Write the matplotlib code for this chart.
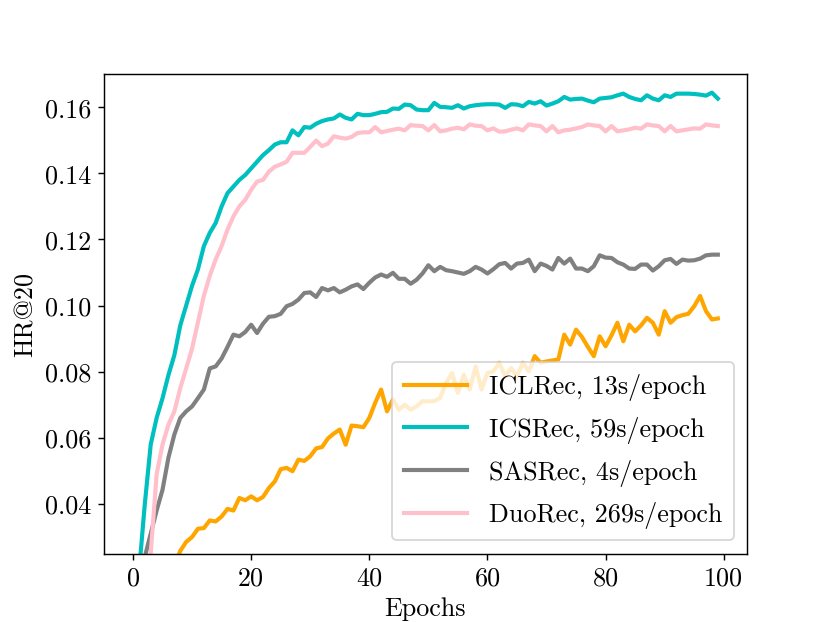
import matplotlib
matplotlib.use("Agg")
import matplotlib.pyplot as plt
import numpy as np

# HR@20 per epoch
epochs = np.arange(100)

icsrec = [0.002, 0.019, 0.040, 0.058, 0.066, 0.072, 0.079, 0.085, 0.094, 0.100,
          0.106, 0.111, 0.118, 0.122, 0.125, 0.130, 0.134, 0.136, 0.138, 0.1395,
          0.1415, 0.1435, 0.1455, 0.147, 0.1487, 0.1494, 0.1494, 0.153, 0.1515, 0.154,
          0.1538, 0.155, 0.1558, 0.1563, 0.1566, 0.1578, 0.1568, 0.1563, 0.158, 0.1576,
          0.1576, 0.158, 0.1585, 0.1586, 0.1596, 0.1595, 0.1608, 0.1606, 0.1593, 0.1591,
          0.1591, 0.1613, 0.1601, 0.1600, 0.1598, 0.1606, 0.1596, 0.1603, 0.1606, 0.1608,
          0.1609, 0.1609, 0.1608, 0.1598, 0.1609, 0.1608, 0.1603, 0.1616, 0.1611, 0.1618,
          0.1605, 0.1611, 0.1618, 0.1631, 0.1623, 0.1625, 0.1626, 0.1620, 0.1615, 0.1626,
          0.1628, 0.1630, 0.1636, 0.1641, 0.1631, 0.1625, 0.1621, 0.1636, 0.1626, 0.1621,
          0.1636, 0.1631, 0.1641, 0.1641, 0.1641, 0.1640, 0.1638, 0.1635, 0.1644, 0.1626]

duorec = [0.002, 0.006, 0.012, 0.025, 0.049, 0.058, 0.064, 0.068, 0.075, 0.081,
          0.087, 0.095, 0.103, 0.109, 0.114, 0.118, 0.123, 0.127, 0.130, 0.132,
          0.135, 0.1375, 0.138, 0.1405, 0.142, 0.1427, 0.1435, 0.1462, 0.1462, 0.1462,
          0.148, 0.1499, 0.1482, 0.149, 0.1512, 0.1508, 0.1505, 0.151, 0.1522, 0.1524,
          0.1524, 0.1540, 0.1524, 0.1528, 0.1532, 0.1535, 0.1530, 0.1546, 0.1544, 0.1543,
          0.1530, 0.1546, 0.1527, 0.1530, 0.1535, 0.1538, 0.1533, 0.1548, 0.1544, 0.1543,
          0.1530, 0.1536, 0.1526, 0.1527, 0.1532, 0.1536, 0.1530, 0.1548, 0.1545, 0.1543,
          0.1527, 0.1543, 0.1524, 0.1530, 0.1532, 0.1536, 0.1540, 0.1548, 0.1545, 0.1543,
          0.1527, 0.1543, 0.1527, 0.1530, 0.1533, 0.1538, 0.1535, 0.1548, 0.1545, 0.1543,
          0.1527, 0.1543, 0.1527, 0.1530, 0.1533, 0.1536, 0.1535, 0.1548, 0.1545, 0.1543]

sasrec = [0.005, 0.015, 0.024, 0.031, 0.038, 0.0443, 0.054, 0.061, 0.066, 0.068,
          0.0695, 0.072, 0.0746, 0.081, 0.0816, 0.084, 0.0875, 0.0912, 0.0907, 0.092,
          0.0942, 0.0917, 0.0945, 0.0966, 0.0968, 0.0975, 0.0998, 0.1005, 0.1018, 0.1038,
          0.1040, 0.1026, 0.1053, 0.1046, 0.1053, 0.1040, 0.1048, 0.1058, 0.1064, 0.1050,
          0.1069, 0.1085, 0.1094, 0.1087, 0.1099, 0.1081, 0.1081, 0.1066, 0.1078, 0.1097,
          0.1122, 0.1104, 0.1117, 0.1107, 0.1104, 0.1100, 0.1096, 0.1104, 0.1117, 0.1109,
          0.1097, 0.1110, 0.1125, 0.1129, 0.1112, 0.1127, 0.1129, 0.1139, 0.1104, 0.1127,
          0.1120, 0.1109, 0.1144, 0.1127, 0.1142, 0.1112, 0.1112, 0.1104, 0.1119, 0.1152,
          0.1145, 0.1144, 0.1131, 0.1124, 0.1112, 0.1111, 0.1124, 0.1124, 0.1106, 0.1119,
          0.1137, 0.1141, 0.1126, 0.1139, 0.1136, 0.1137, 0.1142, 0.1152, 0.1154, 0.1154]

iclrec = [0.005, 0.008, 0.010, 0.012, 0.015, 0.017, 0.019, 0.021, 0.0258, 0.0285,
          0.030, 0.0325, 0.0327, 0.0350, 0.0347, 0.0362, 0.0385, 0.0380, 0.0418, 0.0411,
          0.0423, 0.0411, 0.0421, 0.0448, 0.0468, 0.0505, 0.0509, 0.0499, 0.0534, 0.0530,
          0.0544, 0.0568, 0.0572, 0.0598, 0.0613, 0.0625, 0.0579, 0.0637, 0.0635, 0.0632,
          0.0660, 0.0706, 0.0746, 0.0680, 0.0716, 0.0685, 0.0700, 0.0685, 0.0695, 0.0711,
          0.0710, 0.0711, 0.0721, 0.0766, 0.0796, 0.0736, 0.0791, 0.0746, 0.0816, 0.0746,
          0.0796, 0.0801, 0.0827, 0.0786, 0.0811, 0.0786, 0.0827, 0.0801, 0.0847, 0.0827,
          0.0831, 0.0834, 0.0837, 0.0912, 0.0882, 0.0927, 0.0905, 0.0875, 0.0847, 0.0907,
          0.0877, 0.0910, 0.0948, 0.0892, 0.0942, 0.0922, 0.0940, 0.0963, 0.0948, 0.0912,
          0.0983, 0.0948, 0.0965, 0.0971, 0.0975, 0.0998, 0.1029, 0.0983, 0.0958, 0.0961]

labels = ["ICLRec, 13s/epoch", "ICSRec, 59s/epoch", "SASRec, 4s/epoch", "DuoRec, 269s/epoch"]
colors = ["orange", "c", "gray", "pink"]

plt.rcParams["font.family"] = ["cmr10", "DejaVu Serif"]
plt.rcParams["mathtext.fontset"] = "cm"
plt.rcParams["axes.unicode_minus"] = False
plt.rcParams["font.size"] = 14.5

fig, ax = plt.subplots(figsize=(6.4, 4.8), dpi=129.7)

for serie, lab, col in zip([iclrec, icsrec, sasrec, duorec], labels, colors):
    ax.plot(epochs, serie, color=col, linewidth=2.3, label=lab)

ax.set_ylim(0.025, 0.17)
ax.set_xlabel("Epochs")
ax.set_ylabel("HR@20")
ax.legend(loc="lower right", handlelength=2.4, handletextpad=0.85,
          labelspacing=0.6, borderpad=0.45)

fig.savefig("out.png", dpi=129.7)
